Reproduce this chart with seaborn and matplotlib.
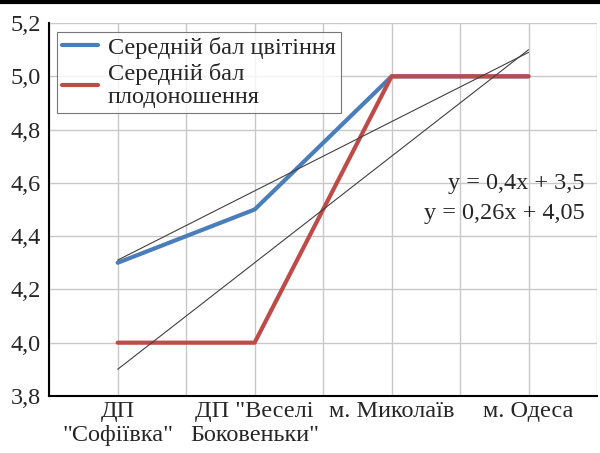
import numpy as np
import pandas as pd
import matplotlib.pyplot as plt
import seaborn as sns
from matplotlib.lines import Line2D
from matplotlib.ticker import FixedLocator, FuncFormatter

places = ["ДП\n\"Софіївка\"", "ДП \"Веселі\nБоковеньки\"", "м. Миколаїв", "м. Одеса"]
bloom = [4.3, 4.5, 5.0, 5.0]
fruit = [4.0, 4.0, 5.0, 5.0]
bloom_label = "Середній бал цвітіння"
fruit_label = "Середній бал\nплодоношення"
eq_fruit = "y = 0,4x + 3,5"
eq_bloom = "y = 0,26x + 4,05"

sns.set_style("white")
plt.rcParams["font.family"] = ["Liberation Serif", "DejaVu Serif"]
FS = 17.5

pos = np.arange(len(places))
df = pd.DataFrame({"pos": pos, "bloom": bloom, "fruit": fruit})

fig = plt.figure(figsize=(6, 4.53), dpi=100)
ax = fig.add_axes([0.082, 0.126, 0.913, 0.823])

# trend lines (linear fit over category index)
for col in ["fruit", "bloom"]:
    sns.regplot(data=df, x="pos", y=col, scatter=False, ci=None, truncate=True,
                color="#404040", line_kws={"lw": 0.8, "zorder": 3}, ax=ax)

sns.lineplot(data=df, x="pos", y="bloom", color="#4a7ebb", lw=3, label=bloom_label,
             ax=ax, zorder=2)
sns.lineplot(data=df, x="pos", y="fruit", color="#be4b48", lw=3, label=fruit_label,
             ax=ax, zorder=2)

ax.set_xlim(-0.5, len(places) - 0.5)
ax.set_ylim(3.8, 5.2)
ax.set_xticks(pos)
ax.set_xticklabels(places, fontsize=FS, linespacing=1.15)
ax.xaxis.set_minor_locator(FixedLocator(np.arange(-0.5, len(places), 1.0)))
ax.tick_params(axis="x", which="major", length=0, pad=4)
ax.tick_params(axis="x", which="minor", length=5, width=0.8, color="#888888", direction="out")
ax.set_yticks(np.arange(3.8, 5.21, 0.2))
ax.yaxis.set_major_formatter(FuncFormatter(lambda v, p: f"{v:.1f}".replace(".", ",")))
ax.tick_params(axis="y", length=5, width=0.8, color="#888888", direction="out",
               labelsize=FS, pad=1)
ax.grid(True, which="major", axis="y", color="#c8c8c8", lw=1)
ax.grid(True, which="both", axis="x", color="#c8c8c8", lw=1)
ax.set_axisbelow(True)
ax.set_xlabel("")
ax.set_ylabel("")
for s in ["top", "right"]:
    ax.spines[s].set_visible(False)
for s in ["left", "bottom"]:
    ax.spines[s].set_color("black")
    ax.spines[s].set_linewidth(1.5)

leg = ax.legend(loc="upper left", bbox_to_anchor=(0.005, 0.99), fontsize=FS,
                frameon=True, fancybox=False, handlelength=1.5, handletextpad=0.4,
                borderpad=0.2, labelspacing=0.2, borderaxespad=0.2)
leg.get_frame().set_edgecolor("#555555")
leg.get_frame().set_linewidth(0.8)
for t in leg.get_texts():
    t.set_linespacing(1.1)

ax.text(0.978, 0.571, eq_fruit, transform=ax.transAxes, ha="right", va="center", fontsize=FS)
ax.text(0.978, 0.49, eq_bloom, transform=ax.transAxes, ha="right", va="center", fontsize=FS)

# table border remnant at the top of the picture
fig.add_artist(Line2D([0, 1], [0.996, 0.996], transform=fig.transFigure, color="black", lw=3))

fig.savefig("out.png", dpi=100)
